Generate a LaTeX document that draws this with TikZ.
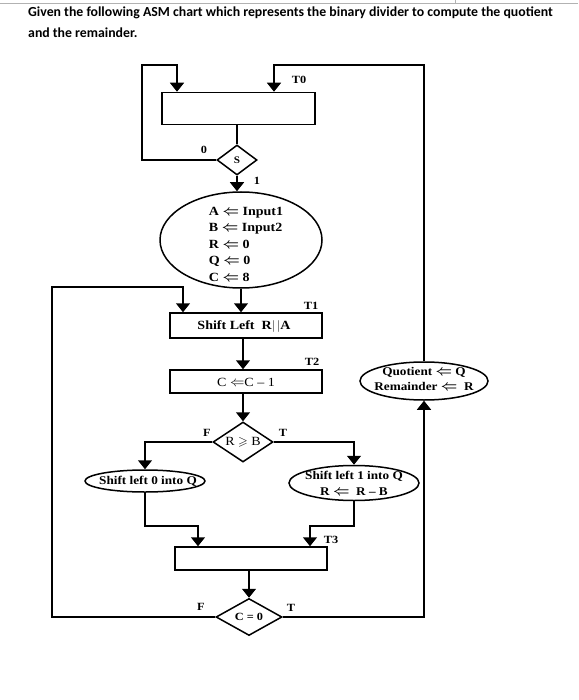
\documentclass[tikz,border=0pt]{standalone}
\usepackage{amssymb}
\usepackage{fontspec}
\setmainfont{Liberation Serif}
\newfontfamily\dfont[FakeStretch=1.12,Ligatures=TeX]{Liberation Serif}
\newfontfamily\titlefont{Carlito}
\usetikzlibrary{shapes.geometric,arrows.meta}
\newcommand{\asgn}{{\fontsize{15}{15}\selectfont\boldmath$\Leftarrow$}}
\tikzset{
  ln/.style={line width=1.5pt},
  arr/.style={line width=1.5pt,-{Triangle[width=14pt,length=9pt]}},
  boxs/.style={draw,line width=1.5pt,rectangle,inner sep=0pt},
  dias/.style={draw,line width=1.5pt,diamond,inner sep=0pt,aspect=1.6},
  ells/.style={draw,line width=1.5pt,ellipse,inner sep=0pt},
  txt/.style={font=\dfont\bfseries\fontsize{12.5}{16.5}\selectfont,inner sep=0pt},
  txts/.style={font=\dfont\bfseries\fontsize{11.8}{15}\selectfont,inner sep=0pt},
  txtr/.style={font=\dfont\fontsize{12.5}{16.5}\selectfont,inner sep=0pt},
  lbl/.style={font=\dfont\bfseries\fontsize{11}{13}\selectfont,inner sep=0pt},
  ttl/.style={font=\titlefont\bfseries\fontsize{13.8}{16}\selectfont,inner sep=0pt,anchor=west},
}
\begin{document}
\begin{tikzpicture}[x=1pt,y=-1pt]
\useasboundingbox (0,0) rectangle (578,700);
% page border line
\draw[gray!60,line width=0.6pt] (0,3) -- (578,3);
\draw[gray!60,line width=0.6pt] (455,0) -- (455,3);
% title
\node[ttl] (t1) at (28,13) {Given the following ASM chart which represents the binary divider to compute the quotient};
\node[ttl] (t2) at (28,33) {and the remainder.};
% nodes
\node[boxs,minimum width=153pt,minimum height=32pt] (box0) at (238.5,108.5) {};
\node[dias,minimum width=40pt,minimum height=30pt] (dS) at (237,160) {};
\node[txt] at (dS) {\fontsize{10}{12}\selectfont S};
\node[ells,minimum width=162pt,minimum height=96pt] (e1) at (241,240) {};
\node[txt,align=left] (e1t) at (246,244) {A \asgn\ Input1\\B \asgn\ Input2\\R \asgn\ 0\\Q \asgn\ 0\\C \asgn\ 8};
\node[boxs,minimum width=152pt,minimum height=25pt] (box1) at (246,325.5) {};
\node[txt] (box1t) at (244,326) {Shift Left\ \ R$|\,|$A};
\node[boxs,minimum width=152pt,minimum height=23pt] (box2) at (246,381.5) {};
\node[txtr] (box2t) at (246,382) {C {\fontsize{15}{15}\selectfont$\Leftarrow$}C \textendash\ 1};
\node[dias,minimum width=60pt,minimum height=40pt] (dR) at (243,442) {};
\node[txtr] (dRt) at (243,442) {R $\geqslant$ B};
\node[ells,minimum width=120pt,minimum height=22pt] (e2) at (145,481) {};
\node[txts] (e2t) at (148,481) {Shift left 0 into Q};
\node[ells,minimum width=130pt,minimum height=35pt] (e3) at (354,483) {};
\node[txts,align=center,font=\dfont\bfseries\fontsize{11.8}{16}\selectfont] (e3t) at (354,483) {Shift left 1 into Q\\R \asgn\ \ R \textendash\ B};
\node[boxs,minimum width=152pt,minimum height=23pt] (box3) at (251,558.5) {};
\node[dias,minimum width=66pt,minimum height=37pt] (dC) at (249,617) {};
\node[txt] (dCt) at (249,617) {\fontsize{11}{13}\selectfont C = 0};
\node[ells,minimum width=128pt,minimum height=38pt] (eQ) at (424,381) {};
\node[txts,align=center] (eQt) at (424,379) {Quotient \asgn\ Q\\Remainder \asgn\ \ R};
% labels
\node[lbl] (lT0) at (299,80) {T0};
\node[lbl] (l0) at (204,150) {0};
\node[lbl] (l1) at (257,181) {1};
\node[lbl] (lT1) at (311,306) {T1};
\node[lbl] (lT2) at (312,362) {T2};
\node[lbl] (lF1) at (207,433) {F};
\node[lbl] (lT) at (283,433) {T};
\node[lbl] (lT3) at (331,540) {T3};
\node[lbl] (lF2) at (201,607) {F};
\node[lbl] (lT4) at (291,608) {T};
% coordinates
\coordinate (tl) at (142,65);
\coordinate (tla) at (177,65);
\coordinate (tra) at (274,65);
\coordinate (ll) at (52,287);
\coordinate (lla) at (183,287);
\coordinate (jl) at (198,526);
\coordinate (jr) at (310,526);
% connectors
\draw[arr] (dS.west) -| (tl) -| (tla |- box0.north);
\draw[arr] (eQ.north) |- (tra) -- (tra |- box0.north);
\draw[ln] (box0.south -| dS) -- (dS.north);
\draw[arr] (dS.south) -- (dS |- e1.north);
\draw[arr] (e1.south) -- (e1.south |- box1.north);
\draw[arr] (dC.west) -| (ll) -| (lla |- box1.north);
\draw[arr] (box1.south -| dR) -- (box2.north -| dR);
\draw[arr] (box2.south -| dR) -- (dR.north);
\draw[arr] (dR.west) -| (e2.north);
\draw[arr] (dR.east) -| (e3.north);
\draw[arr] (e2.south) |- (jl) -- (jl |- box3.north);
\draw[arr] (e3.south) |- (jr) -- (jr |- box3.north);
\draw[arr] (box3.south -| dC) -- (dC.north);
\draw[arr] (dC.east) -| (eQ.south);
\end{tikzpicture}
\end{document}
